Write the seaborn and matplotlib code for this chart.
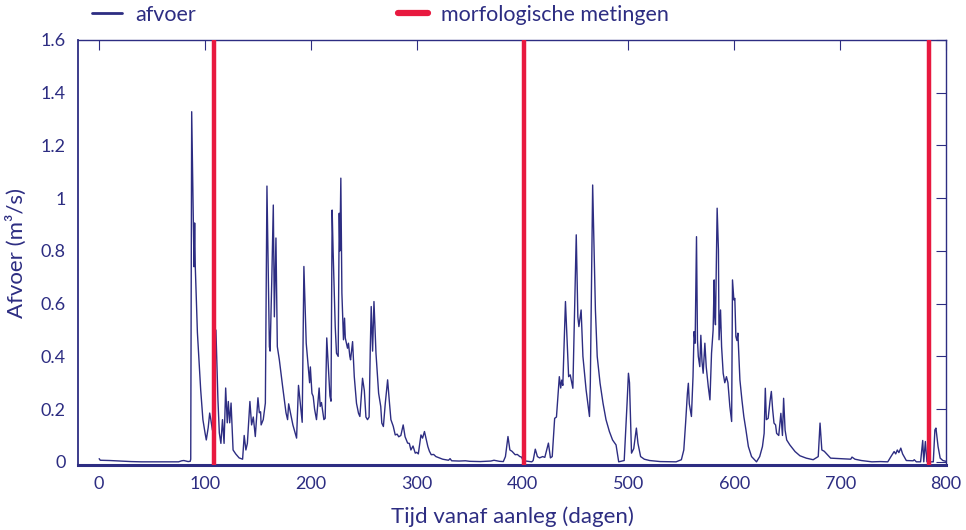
import matplotlib
matplotlib.use("Agg")
import matplotlib.pyplot as plt
from matplotlib import font_manager
import seaborn as sns
import pandas as pd

# ---- data ----
dagen = [0, 1, 10, 20, 30, 40, 75, 78, 80, 82, 84, 86, 86.5, 87.4, 89.6, 90.2, 90.8, 92.8, 95.9, 98, 100, 101.2,
         103, 104.4, 105.5, 107, 110.3, 112.2, 113.5, 115, 116.5, 118, 119.5, 121, 122, 123.3, 124.6, 126.5, 129,
         132.2, 135.5, 137, 138.6, 140, 142.4, 144, 145.6, 147.5, 150, 151.3, 152.5, 153, 155, 157, 158.5, 160.8,
         161.5, 163, 164.5, 165.5, 167, 168.3, 170.2, 173.3, 176.5, 178, 179, 181, 183, 186.5, 188.3, 190, 191.8,
         193.4, 195.6, 197.5, 198.8, 199.5, 201, 202.2, 203.5, 205.3, 207.8, 208.8, 210, 212.3, 213.5, 215, 218,
         219, 220.1, 221, 223, 224.2, 225.8, 226.8, 227.4, 228.3, 229.3, 230.8, 231.8, 232.5, 234.6, 235.5, 236.8,
         237.5, 239.4, 241, 243.1, 245, 246.3, 248.8, 250.5, 252, 253.5, 255, 256.1, 257, 258.3, 259.6, 261.5, 264,
         266, 267, 268.5, 270.3, 272.5, 274, 275.6, 277.8, 279.7, 281.5, 283, 285, 287.2, 289, 291.4, 293, 294.5,
         296.5, 298.6, 300, 301.5, 304, 305.5, 307.3, 308.7, 310.5, 312, 313.7, 316, 318.1, 324.5, 330, 331.5, 333,
         340, 346, 350, 360, 370, 373, 378, 381.8, 383.8, 386.2, 388, 390, 393, 395, 397.4, 399, 401, 403, 405,
         408.7, 410, 412, 414, 416, 419, 421, 424.4, 426.3, 428, 430.3, 432, 434.7, 436, 437, 438, 440.5, 443.5,
         445, 447.5, 449.1, 450.7, 452.2, 453.2, 455.3, 457, 460, 463.2, 464, 466.2, 468.8, 470.5, 473.2, 476,
         478.8, 482, 485, 488.3, 490.8, 496, 498.7, 500, 501, 502.9, 505, 507.5, 509, 511.5, 515, 520, 530, 545,
         550, 552.3, 554, 555.7, 556.6, 557.5, 559.5, 561, 562, 563, 564.3, 565.2, 566, 567.4, 568.4, 569.5, 570.6,
         572.2, 573.5, 575.4, 577, 578.5, 580, 581, 581.5, 582.2, 583.8, 585, 585.6, 587, 588, 589.5, 591, 592.6,
         594, 595.8, 597.5, 598.3, 599.6, 600.5, 601.5, 602.5, 603.4, 605.3, 607.2, 609, 611, 613.3, 616.3, 621,
         624, 626.6, 628.2, 629.3, 630.3, 632, 633.7, 635, 636.2, 637.5, 639, 640, 642, 644, 645.5, 646.6, 648,
         649.5, 652.5, 657.4, 662, 668, 674.5, 679.3, 681, 682.7, 685, 691, 700, 710, 711.2, 714, 720, 730, 738,
         745, 748, 751, 752.5, 754, 755.5, 757.3, 759, 762.5, 769, 770, 772, 776, 778, 779, 780.5, 782, 788,
         789.5, 790.5, 792.5, 794.5, 797, 800]
afvoer = [0.012, 0.006, 0.005, 0.003, 0.001, 0.0, 0.0, 0.004, 0.005, 0.003, 0.001, 0.002, 0.01, 1.328, 0.74,
          0.906, 0.74, 0.49, 0.273, 0.16, 0.11, 0.083, 0.13, 0.185, 0.16, 0.12, 0.5, 0.235, 0.11, 0.07, 0.16, 0.07,
          0.28, 0.148, 0.229, 0.148, 0.223, 0.045, 0.03, 0.015, 0.01, 0.1, 0.045, 0.07, 0.229, 0.14, 0.17, 0.096,
          0.243, 0.186, 0.19, 0.14, 0.16, 0.223, 1.046, 0.437, 0.42, 0.678, 0.974, 0.55, 0.849, 0.437, 0.387,
          0.286, 0.186, 0.16, 0.22, 0.18, 0.14, 0.09, 0.29, 0.22, 0.15, 0.741, 0.45, 0.36, 0.30, 0.36, 0.26, 0.248,
          0.2, 0.16, 0.28, 0.21, 0.225, 0.16, 0.165, 0.47, 0.25, 0.23, 0.955, 0.80, 0.513, 0.412, 0.40, 0.943,
          0.80, 1.076, 0.64, 0.463, 0.545, 0.47, 0.431, 0.45, 0.40, 0.387, 0.456, 0.323, 0.222, 0.184, 0.172,
          0.317, 0.27, 0.17, 0.16, 0.17, 0.425, 0.589, 0.42, 0.608, 0.412, 0.26, 0.21, 0.147, 0.134, 0.222, 0.311,
          0.235, 0.16, 0.135, 0.102, 0.105, 0.095, 0.1, 0.14, 0.095, 0.071, 0.07, 0.045, 0.06, 0.033, 0.036, 0.03,
          0.102, 0.09, 0.115, 0.09, 0.058, 0.04, 0.027, 0.028, 0.02, 0.01, 0.006, 0.012, 0.004, 0.003, 0.004,
          0.002, 0.001, 0.003, 0.006, 0.002, 0.001, 0.02, 0.096, 0.045, 0.04, 0.027, 0.028, 0.02, 0.018, 0.0,
          0.003, 0.002, 0.0, 0.005, 0.048, 0.02, 0.015, 0.02, 0.017, 0.071, 0.015, 0.02, 0.165, 0.17, 0.323, 0.28,
          0.31, 0.29, 0.608, 0.323, 0.33, 0.279, 0.564, 0.861, 0.55, 0.513, 0.576, 0.40, 0.273, 0.172, 0.30, 1.05,
          0.576, 0.40, 0.298, 0.222, 0.16, 0.115, 0.083, 0.064, 0.0, 0.005, 0.222, 0.336, 0.30, 0.033, 0.05,
          0.128, 0.07, 0.02, 0.01, 0.005, 0.001, 0.0, 0.008, 0.045, 0.147, 0.26, 0.298, 0.22, 0.172, 0.323, 0.494,
          0.45, 0.854, 0.463, 0.4, 0.361, 0.48, 0.38, 0.336, 0.45, 0.36, 0.286, 0.235, 0.412, 0.50, 0.69, 0.56,
          0.52, 0.962, 0.804, 0.463, 0.576, 0.437, 0.336, 0.30, 0.323, 0.3, 0.21, 0.153, 0.69, 0.614, 0.62, 0.475,
          0.46, 0.488, 0.311, 0.235, 0.172, 0.121, 0.058, 0.02, 0.0, 0.02, 0.058, 0.108, 0.279, 0.16, 0.165, 0.229,
          0.267, 0.2, 0.147, 0.14, 0.108, 0.1, 0.184, 0.1, 0.241, 0.12, 0.083, 0.064, 0.039, 0.023, 0.014, 0.008,
          0.02, 0.147, 0.045, 0.04, 0.014, 0.012, 0.01, 0.018, 0.01, 0.005, 0.0, 0.001, 0.0, 0.02, 0.039, 0.03,
          0.045, 0.035, 0.052, 0.03, 0.005, 0.004, 0.008, 0.0, 0.0, 0.081, 0.0, 0.077, 0.0, 0.0, 0.121, 0.128,
          0.058, 0.014, 0.005, 0.002]
metingen = [108.5, 401, 784]

x_ticks = [0, 100, 200, 300, 400, 500, 600, 700, 800]
y_ticks = [0, 0.2, 0.4, 0.6, 0.8, 1.0, 1.2, 1.4, 1.6]
y_ticklabels = ["0", "0.2", "0.4", "0.6", "0.8", "1", "1.2", "1.4", "1.6"]

NAVY = "#2D2D82"
RED = "#E8193F"

sns.set_theme(style="white")
names = {f.name for f in font_manager.fontManager.ttflist}
fam = [f for f in ["Liberation Sans Narrow", "Lato", "DejaVu Sans"] if f in names]
plt.rcParams["font.family"] = fam

df = pd.DataFrame({"dag": dagen, "afvoer": afvoer})

fig = plt.figure(figsize=(9.66, 5.30), dpi=100)
ax = fig.add_axes([78 / 966, 1 - 465 / 530, 868 / 966, 425 / 530])

sns.lineplot(data=df, x="dag", y="afvoer", ax=ax, color=NAVY, linewidth=1.0,
             estimator=None, sort=False, label="afvoer", legend=False)
for i, m in enumerate(metingen):
    ax.axvline(m, color=RED, linewidth=3.2, zorder=3,
               label="morfologische metingen" if i == 0 else None)

ax.set_xlim(-20, 800)
ax.set_ylim(-0.012, 1.6)
ax.set_xticks(x_ticks)
ax.set_yticks(y_ticks)
ax.set_yticklabels(y_ticklabels)
ax.tick_params(axis="both", direction="in", length=7, width=0.8, color=NAVY,
               labelcolor=NAVY, labelsize=13, top=True, right=True, pad=9)
ax.tick_params(axis="x", pad=8)

for side, sp in ax.spines.items():
    sp.set_color(NAVY)
    sp.set_visible(True)
    sp.set_linewidth(1.0)
ax.spines["bottom"].set_linewidth(2.2)
ax.spines["left"].set_linewidth(1.3)

ax.set_xlabel("Tijd vanaf aanleg (dagen)", color=NAVY, fontsize=16, labelpad=10)
ax.set_ylabel("Afvoer (m³/s)", color=NAVY, fontsize=16, labelpad=10)

h1 = plt.Line2D([], [], color=NAVY, linewidth=2)
h2 = plt.Line2D([], [], color=RED, linewidth=4.5)
leg = fig.legend([h1, h2], ["afvoer", "morfologische metingen"], ncol=2,
                 loc="center left", bbox_to_anchor=(92 / 966, 1 - 15 / 530),
                 frameon=False, fontsize=15.5, handlelength=1.4, handletextpad=0.6,
                 columnspacing=9.4, borderaxespad=0, borderpad=0)
for t in leg.get_texts():
    t.set_color(NAVY)

fig.savefig("out.png", dpi=100)
